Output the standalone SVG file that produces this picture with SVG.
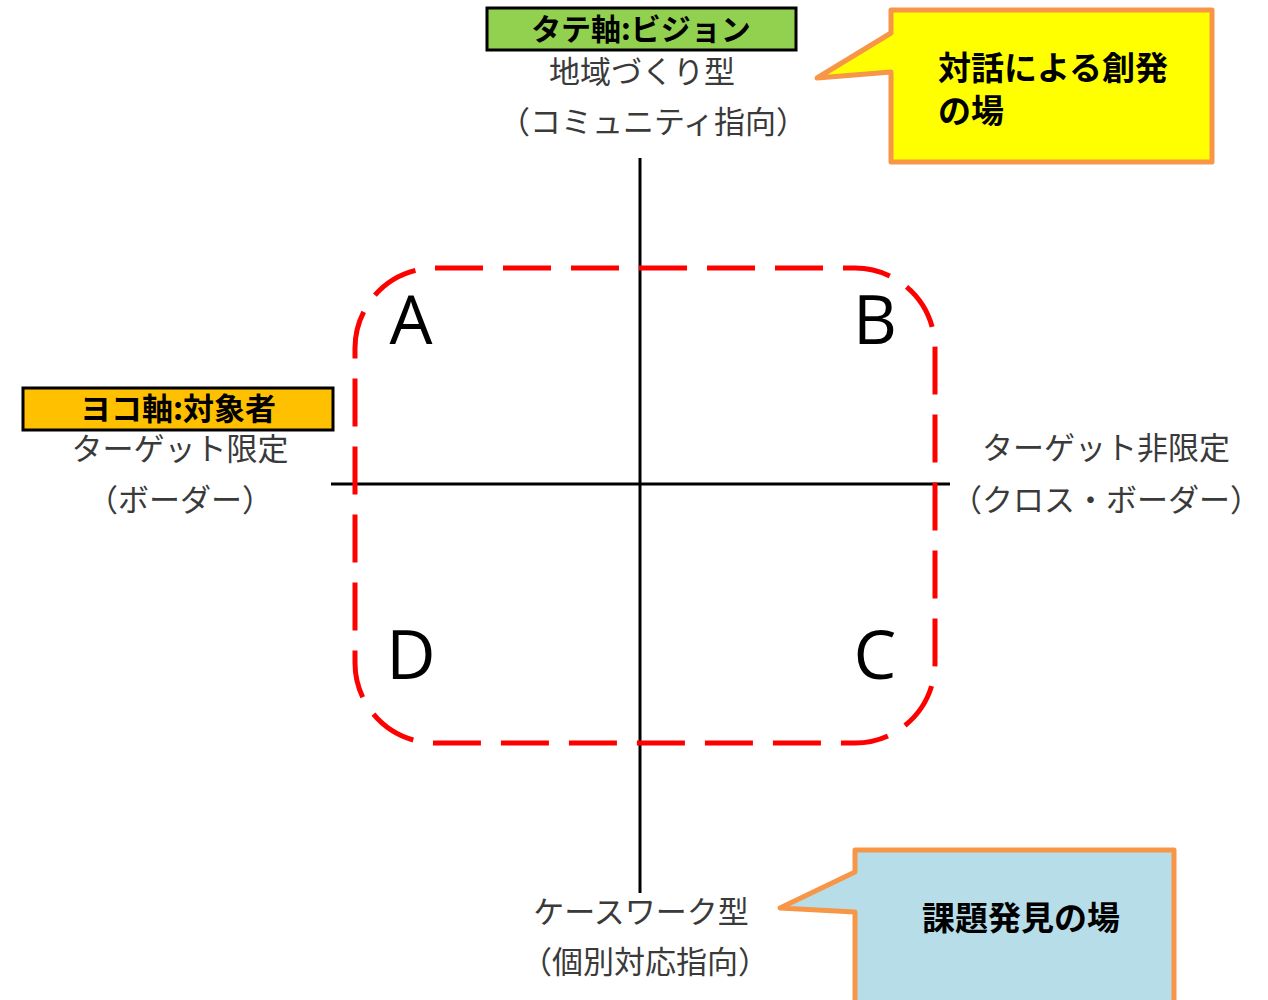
<svg xmlns="http://www.w3.org/2000/svg" width="1268" height="1000" viewBox="0 0 1268 1000">
<style>
.lbl{font-family:"Noto Sans CJK JP","Noto Sans",sans-serif;font-size:31px;fill:#3a3a3a;text-anchor:middle}
.hdr{font-family:"Noto Sans CJK JP","Noto Sans",sans-serif;font-weight:bold;fill:#000;text-anchor:middle}
.call{font-family:"Noto Sans CJK JP","Noto Sans",sans-serif;font-weight:bold;font-size:33px;fill:#000}
.quad{font-family:"Open Sans","Noto Sans",sans-serif;font-size:68px;fill:#000;text-anchor:middle}
.axis{stroke:#000;stroke-width:3;fill:none}
.bubble{stroke:#F79646;stroke-width:5;stroke-linejoin:round}
</style>
<rect width="1268" height="1000" fill="#fff"/>
<g id="connectors">
<line class="axis" x1="640" y1="158" x2="640" y2="893"/>
<line class="axis" x1="331" y1="484" x2="950" y2="484"/>
</g>
<g id="region">
<rect x="355" y="268" width="580" height="475" rx="80" ry="80" fill="none" stroke="#FF0000" stroke-width="5" stroke-dasharray="48 20"/>
</g>
<g id="quadrants">
<text class="quad" x="411" y="344">A</text>
<text class="quad" x="875" y="344">B</text>
<text class="quad" x="875" y="679">C</text>
<text class="quad" x="411" y="679">D</text>
</g>
<g id="vertical-axis-title">
<rect x="487" y="8" width="309" height="42" fill="#92D050" stroke="#000" stroke-width="3"/>
<text class="hdr" x="641" y="40" font-size="30">タテ軸:ビジョン</text>
</g>
<g id="top-label">
<text class="lbl" x="642" y="83">地域づくり型</text>
<text class="lbl" x="653" y="133">（コミュニティ指向）</text>
</g>
<g id="horizontal-axis-title">
<rect x="23" y="388" width="310" height="42" fill="#FFC000" stroke="#000" stroke-width="3"/>
<text class="hdr" x="178" y="420" font-size="31">ヨコ軸:対象者</text>
</g>
<g id="left-label">
<text class="lbl" x="180" y="460">ターゲット限定</text>
<text class="lbl" x="180" y="511">（ボーダー）</text>
</g>
<g id="right-label">
<text class="lbl" x="1106" y="459">ターゲット非限定</text>
<text class="lbl" x="1106" y="511">（クロス・ボーダー）</text>
</g>
<g id="bottom-label">
<text class="lbl" x="641" y="923">ケースワーク型</text>
<text class="lbl" x="645" y="973">（個別対応指向）</text>
</g>
<g id="callout-dialogue">
<path class="bubble" fill="#FFFF00" d="M891 10 H1212 V162 H891 V72 L817 78 L891 33 Z"/>
<text class="call" x="938" y="80">対話による創発</text>
<text class="call" x="938" y="123">の場</text>
</g>
<g id="callout-discovery">
<path class="bubble" fill="#B7DDE8" d="M855 850 H1174 V1010 H855 V912 L780 908 L855 872 Z"/>
<text class="call" x="1021" y="930" text-anchor="middle">課題発見の場</text>
</g>
</svg>
